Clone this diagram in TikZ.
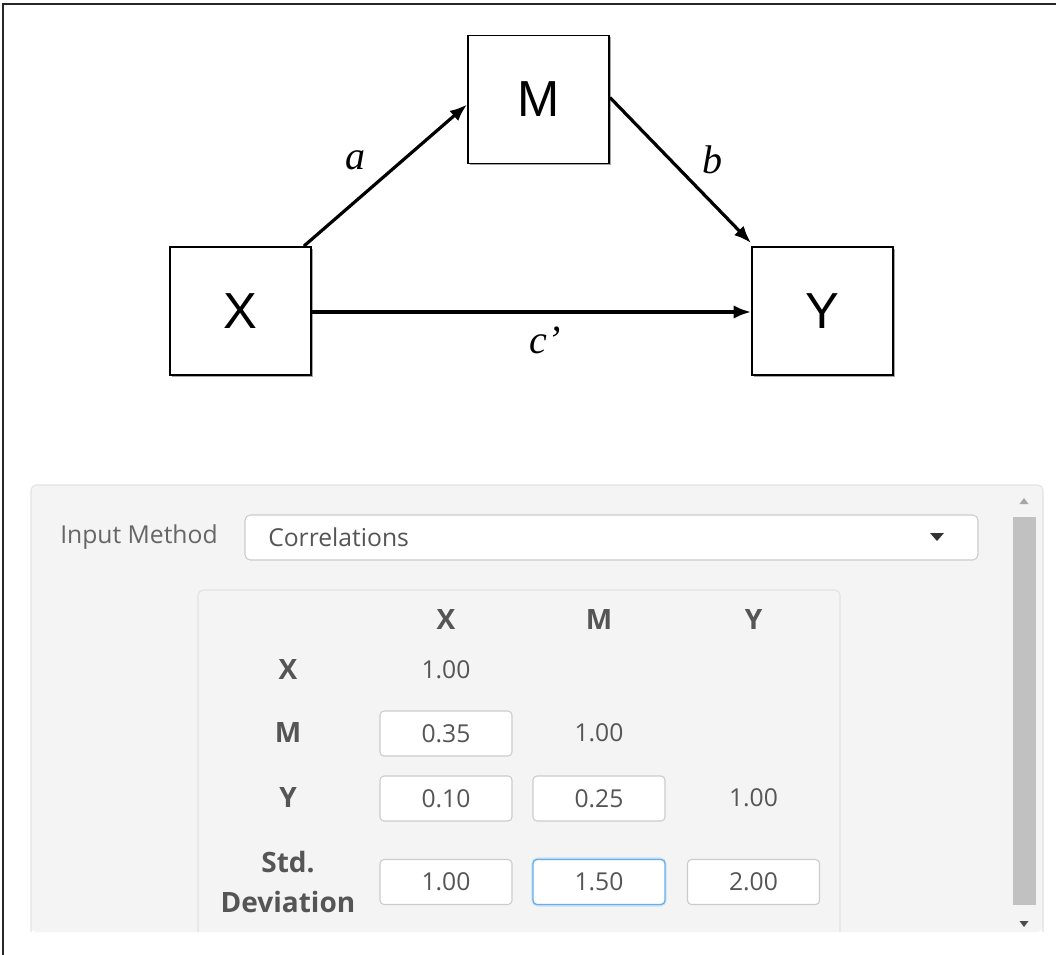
\documentclass[tikz,border=0pt]{standalone}
\usepackage{fontspec}
\setmainfont{Liberation Serif}
\newfontfamily\arialf{Liberation Sans}
\newfontfamily\osans{Open Sans}
\usetikzlibrary{shadows,calc,arrows.meta}
\definecolor{panelbg}{HTML}{F4F4F4}
\definecolor{panelline}{HTML}{E2E2E2}
\definecolor{boxline}{HTML}{CCCCCC}
\definecolor{txtgray}{HTML}{555555}
\definecolor{lblgray}{HTML}{666666}
\definecolor{focusblue}{HTML}{66AFE9}
\definecolor{glowblue}{HTML}{C9E1F5}
\definecolor{thumbgray}{HTML}{C1C1C1}
\begin{document}
\begin{tikzpicture}[x=0.75pt,y=-0.75pt,
  varbox/.style={draw=black, line width=1.4pt, fill=white, minimum width=105.75pt, minimum height=96pt, inner sep=0pt,
    font=\arialf\fontsize{38}{40}\selectfont,
    drop shadow={shadow xshift=1.2pt, shadow yshift=-1.2pt, opacity=0.35, fill=black}},
  arr/.style={line width=2.4pt, -{Latex[length=13pt,width=10pt]}},
  pathlbl/.style={font=\itshape\fontsize{30}{32}\selectfont},
  uitext/.style={font=\osans\fontsize{18.5}{22}\selectfont, text=txtgray, inner sep=0pt},
  uihead/.style={font=\osans\bfseries\fontsize{21}{30}\selectfont, text=txtgray, inner sep=0pt, align=center},
  cellbox/.style={draw=boxline, line width=0.8pt, fill=white, rounded corners=3pt, minimum width=99pt, minimum height=33.75pt, inner sep=0pt,
    font=\osans\fontsize{18.5}{22}\selectfont, text=txtgray},
  focusbox/.style={cellbox, draw=focusblue, line width=1pt}
]
\useasboundingbox (0,0) rectangle (1056,955);
\fill[white] (0,0) rectangle (1056,955);
% outer frame (top and left)
\draw[line width=1.5pt, black!85] (3,955) -- (3,4) -- (1056,4);

% ---- path diagram ----
\node[varbox] (M) at (538.5,99.5) {M};
\node[varbox] (X) at (240.5,311) {X};
\node[varbox] (Y) at (822.5,311) {Y};
\draw[arr] ($(X.north east)+(-8,0)$) -- ($(M.west)+(0,5)$);
\draw[arr] ($(M.east)+(0,-2)$) -- ($(Y.north west)+(0,-3)$);
\draw[arr] ($(X.east)+(0,1)$) -- ($(Y.west)+(0,1)$);
\node[pathlbl] (la) at (355,160) {a};
\node[pathlbl] (lb) at (712,160) {b};
\node[pathlbl] (lc) at (545,340) {c’};

% ---- input panel ----
\fill[panelbg, rounded corners=4pt] (31,485) rectangle (1043,932);
\draw[panelline, line width=0.8pt, rounded corners=4pt] (31,932) -- (31,485) -- (1043,485) -- (1043,932);
% scrollbar
\fill[thumbgray] (1013,517) rectangle (1036,905);
\fill[black!35] (1019.5,504) -- (1028.5,504) -- (1024,498) -- cycle;
\fill[black!70] (1019.5,921) -- (1028.5,921) -- (1024,927) -- cycle;

\node[uitext, text=lblgray, anchor=west] (im) at (60,537) {Input Method};
\node[draw=boxline, line width=0.8pt, fill=white, rounded corners=4pt, minimum width=549.75pt, minimum height=33.75pt, inner sep=0pt] (dd) at (611.5,537.5) {};
\node[uitext, anchor=west] (corr) at (268,537) {Correlations};
\fill[black!80] (930,533) -- (944,533) -- (937,541) -- cycle;

% inner table panel
\draw[panelline, line width=0.8pt, rounded corners=4pt] (198,932) -- (198,590) -- (840,590) -- (840,932);

% headers
\node[uihead] (hx) at (446,620) {X};
\node[uihead] (hm) at (599,620) {M};
\node[uihead] (hy) at (753.5,620) {Y};
\node[uihead] (rx) at (288,670) {X};
\node[uihead] (rm) at (288,733) {M};
\node[uihead] (ry) at (288,798) {Y};
\node[uihead] (rs) at (288,882) {Std.\\Deviation};

% values
\node[uitext] (vxx) at (446,670) {1.00};
\node[cellbox] (vmx) at (446,733.5) {0.35};
\node[uitext] (vmm) at (599,733) {1.00};
\node[cellbox] (vyx) at (446,798.5) {0.10};
\node[cellbox] (vym) at (599,798.5) {0.25};
\node[uitext] (vyy) at (753.5,798) {1.00};
\node[cellbox] (vsx) at (446,882) {1.00};
\draw[glowblue, line width=2.5pt, rounded corners=4pt] (533,859) rectangle (665,905);
\node[focusbox] (vsm) at (599,882) {1.50};
\node[cellbox] (vsy) at (753.5,882) {2.00};
\end{tikzpicture}
\end{document}
